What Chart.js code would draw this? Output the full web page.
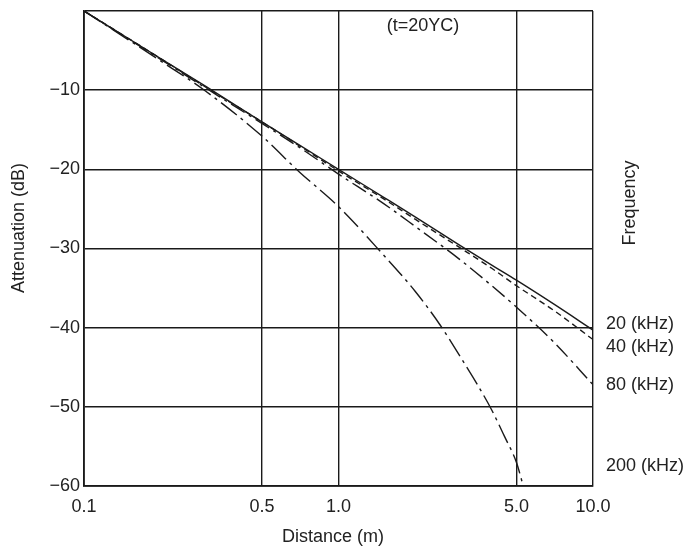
<!DOCTYPE html>
<html>
<head>
<meta charset="utf-8">
<script src="https://cdn.jsdelivr.net/npm/chart.js@4"></script>
<style>
  html, body { margin: 0; padding: 0; background: #fff; }
  #wrap { width: 686px; height: 546px; }
</style>
</head>
<body>
<div id="wrap"><canvas id="attChart" width="686" height="546"></canvas></div>
<script>
// distances (m)
const distances = [0.1, 0.2, 0.3, 0.5, 0.7, 1.0, 1.5, 2.0, 3.0, 4.0, 5.0, 7.0, 10.0];
const att20 = [0, -6.0, -9.5, -14.0, -16.9, -20.0, -23.5, -26.0, -29.6, -32.1, -34.0, -37.0, -40.3];
const att40 = [0, -6.0, -9.6, -14.0, -17.0, -20.2, -23.7, -26.3, -29.9, -32.5, -34.7, -37.8, -41.5];
const att80 = [0, -6.1, -9.7, -14.2, -17.2, -20.6, -24.3, -27.2, -31.4, -34.7, -37.4, -41.8, -47.2];

const distances200 = [0.1, 0.2, 0.3, 0.5, 0.7, 1.0, 1.5, 2.0, 2.5, 3.0, 3.5, 4.0, 4.5, 5.0, 5.32];
const att200 = [0, -6.3, -10.1, -15.8, -20.3, -24.7, -30.8, -35.4, -39.6, -43.6, -47.1, -50.4, -53.8, -57.0, -60.0];

const xTicks = [0.1, 0.5, 1.0, 5.0, 10.0];
const xTickLabels = ["0.1", "0.5", "1.0", "5.0", "10.0"];
const yTicks = [-60, -50, -40, -30, -20, -10, 0];

const seriesNames = ["20 (kHz)", "40 (kHz)", "80 (kHz)", "200 (kHz)"];

function pts(xs, ys) {
  return xs.map((x, i) => ({ x: x, y: ys[i] }));
}

const FONT = "Liberation Sans, Arial, Helvetica, sans-serif";
const INK = "#222";

// free text: axis titles, note, curve labels
const textPlugin = {
  id: "texts",
  afterDraw(chart) {
    const c = chart.ctx;
    c.save();
    c.fillStyle = INK;
    c.font = "18px " + FONT;
    c.textBaseline = "middle";

    c.textAlign = "center";
    c.fillText("Distance (m)", 333, 537);
    c.fillText("(t=20ΥC)", 423, 26);

    c.save();
    c.translate(19, 228);
    c.rotate(-Math.PI / 2);
    c.fillText("Attenuation (dB)", 0, 0);
    c.restore();

    c.save();
    c.translate(630, 203);
    c.rotate(-Math.PI / 2);
    c.fillText("Frequency", 0, 0);
    c.restore();

    c.textAlign = "left";
    const labelY = [324, 347, 385, 466];
    seriesNames.forEach((n, i) => c.fillText(n, 606, labelY[i]));
    c.restore();
  }
};

const ctx = document.getElementById("attChart");

new Chart(ctx, {
  type: "line",
  data: {
    datasets: [
      {
        label: seriesNames[0],
        data: pts(distances, att20),
        borderColor: "#1a1a1a",
        borderWidth: 1.4
      },
      {
        label: seriesNames[1],
        data: pts(distances, att40),
        borderColor: "#1a1a1a",
        borderWidth: 1.4,
        borderDash: [6, 4]
      },
      {
        label: seriesNames[2],
        data: pts(distances, att80),
        borderColor: "#1a1a1a",
        borderWidth: 1.4,
        borderDash: [16, 5, 3, 5]
      },
      {
        label: seriesNames[3],
        data: pts(distances200, att200),
        borderColor: "#1a1a1a",
        borderWidth: 1.4,
        borderDash: [20, 5, 3, 5]
      }
    ]
  },
  options: {
    responsive: false,
    animation: false,
    layout: {
      padding: { left: 0, right: 93, top: 11, bottom: 0 }
    },
    elements: {
      point: { radius: 0 },
      line: { tension: 0.4, cubicInterpolationMode: "monotone", fill: false }
    },
    plugins: {
      legend: { display: false },
      tooltip: { enabled: false }
    },
    scales: {
      x: {
        type: "logarithmic",
        min: 0.1,
        max: 10,
        afterBuildTicks(axis) {
          axis.ticks = xTicks.map(v => ({ value: v }));
        },
        afterFit(axis) {
          axis.height = 60;
          axis.paddingLeft = 0;
          axis.paddingRight = 0;
        },
        ticks: {
          color: INK,
          font: { family: FONT, size: 18 },
          padding: 10,
          maxRotation: 0,
          autoSkip: false,
          callback(value) {
            const i = xTicks.indexOf(value);
            return i >= 0 ? xTickLabels[i] : "";
          }
        },
        grid: {
          color: "#1a1a1a",
          lineWidth: 1.4,
          drawTicks: false
        },
        border: { color: "#1a1a1a", width: 1.8 }
      },
      y: {
        min: -60,
        max: 0,
        afterBuildTicks(axis) {
          axis.ticks = yTicks.map(v => ({ value: v }));
        },
        afterFit(axis) {
          axis.width = 84;
          axis.paddingTop = 0;
          axis.paddingBottom = 0;
        },
        ticks: {
          color: INK,
          font: { family: FONT, size: 18 },
          padding: 4,
          callback(value) {
            return value === 0 ? "" : "\u2212" + Math.abs(value);
          }
        },
        grid: {
          color: "#1a1a1a",
          lineWidth: 1.4,
          drawTicks: false
        },
        border: { color: "#1a1a1a", width: 1.8 }
      }
    }
  },
  plugins: [textPlugin]
});
</script>
</body>
</html>
